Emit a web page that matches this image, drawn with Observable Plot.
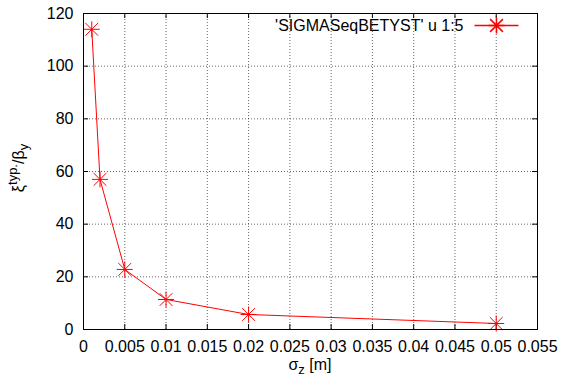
<!DOCTYPE html>
<html>
<head>
<meta charset="utf-8">
<script src="https://cdn.jsdelivr.net/npm/d3@7"></script>
<script src="https://cdn.jsdelivr.net/npm/@observablehq/plot@0.6"></script>
<style>
  html, body { margin: 0; padding: 0; background: #fff; }
</style>
</head>
<body>
<div id="chart"></div>
<script>
const sigmaZ = [0.001, 0.002, 0.005, 0.01, 0.02, 0.05];
const xiOverBeta = [114, 57, 22.8, 11.4, 5.7, 2.28];
const xTicks = [0, 0.005, 0.01, 0.015, 0.02, 0.025, 0.03, 0.035, 0.04, 0.045, 0.05, 0.055];
const yTicks = [0, 20, 40, 60, 80, 100, 120];
const seriesLabel = "'SIGMASeqBETYST' u 1:5";

const data = sigmaZ.map((x, i) => ({x, y: xiOverBeta[i]}));

const W = 561, H = 376;
const mL = 83, mR = 24, mT = 13, mB = 47;
const frameH = H - mT - mB, frameW = W - mL - mR;
const tick = 5;
const FS = 16;

// gnuplot-like asterisk (plus + cross)
const star = {
  draw(ctx, size) {
    const r = Math.sqrt(size / Math.PI);
    const d = r * 0.8;
    ctx.moveTo(-r, 0); ctx.lineTo(r, 0);
    ctx.moveTo(0, -r); ctx.lineTo(0, r);
    ctx.moveTo(-d, -d); ctx.lineTo(d, d);
    ctx.moveTo(-d, d); ctx.lineTo(d, -d);
  }
};
const hline = {
  draw(ctx, size) {
    const r = Math.sqrt(size / Math.PI);
    ctx.moveTo(-r, 0); ctx.lineTo(r, 0);
  }
};

const fmt = d => d === 0 ? "0" : String(+d.toFixed(3));

const plot = Plot.plot({
  width: W, height: H,
  marginLeft: mL, marginRight: mR, marginTop: mT, marginBottom: mB,
  style: {fontFamily: "'Liberation Sans', Arial, Helvetica, sans-serif", fontSize: FS + "px", background: "#fff", color: "#000"},
  x: {domain: [0, 0.055]},
  y: {domain: [0, 120]},
  marks: [
    Plot.gridX(xTicks, {stroke: "#000", strokeOpacity: 0.6, strokeDasharray: "1,2"}),
    Plot.gridY(yTicks, {stroke: "#000", strokeOpacity: 0.6, strokeDasharray: "1,2"}),
    Plot.ruleX(xTicks, {x: d => d, insetTop: frameH - tick, stroke: "#000"}),
    Plot.ruleX(xTicks, {x: d => d, insetBottom: frameH - tick, stroke: "#000"}),
    Plot.ruleY(yTicks, {y: d => d, insetRight: frameW - tick, stroke: "#000"}),
    Plot.ruleY(yTicks, {y: d => d, insetLeft: frameW - tick, stroke: "#000"}),
    Plot.axisX({ticks: xTicks, tickFormat: fmt, tickSize: 0, tickPadding: 11, label: null, fontSize: FS}),
    Plot.axisY({ticks: yTicks, tickSize: 0, tickPadding: 10, label: null, fontSize: FS}),
    Plot.line(data, {x: "x", y: "y", stroke: "#ff0000", strokeWidth: 1}),
    Plot.dot(data, {x: "x", y: "y", symbol: star, r: 8, stroke: "#ff0000", fill: "none", strokeWidth: 1}),
    // legend
    Plot.text([seriesLabel], {frameAnchor: "top-right", dx: -74, dy: 12, text: d => d, textAnchor: "end", lineAnchor: "middle", fontSize: FS, fill: "#000"}),
    Plot.dot([0], {frameAnchor: "top-right", dx: -41, dy: 12, symbol: hline, r: 22, stroke: "#ff0000", fill: "none"}),
    Plot.dot([0], {frameAnchor: "top-right", dx: -41, dy: 12, symbol: star, r: 8, stroke: "#ff0000", fill: "none"}),
    Plot.frame({stroke: "#000", strokeWidth: 1})
  ]
});

const svg = d3.select(plot);
// y label: ξ^{typ.}/β_y
const yl = svg.append("text")
  .attr("transform", `translate(24,168) rotate(-90)`)
  .attr("text-anchor", "middle")
  .attr("font-size", FS)
  .attr("fill", "#000");
yl.append("tspan").text("ξ");
yl.append("tspan").attr("dy", -7).attr("font-size", 13).text("typ.");
yl.append("tspan").attr("dy", 7).text("/β");
yl.append("tspan").attr("dy", 4).attr("font-size", 13).text("y");

// x label: σ_z [m]
const xl = svg.append("text")
  .attr("transform", `translate(${mL + frameW / 2},370)`)
  .attr("text-anchor", "middle")
  .attr("font-size", FS)
  .attr("fill", "#000");
xl.append("tspan").text("σ");
xl.append("tspan").attr("dy", 4).attr("font-size", 13).text("z");
xl.append("tspan").attr("dy", -4).text(" [m]");

document.getElementById("chart").appendChild(plot);
</script>
</body>
</html>
